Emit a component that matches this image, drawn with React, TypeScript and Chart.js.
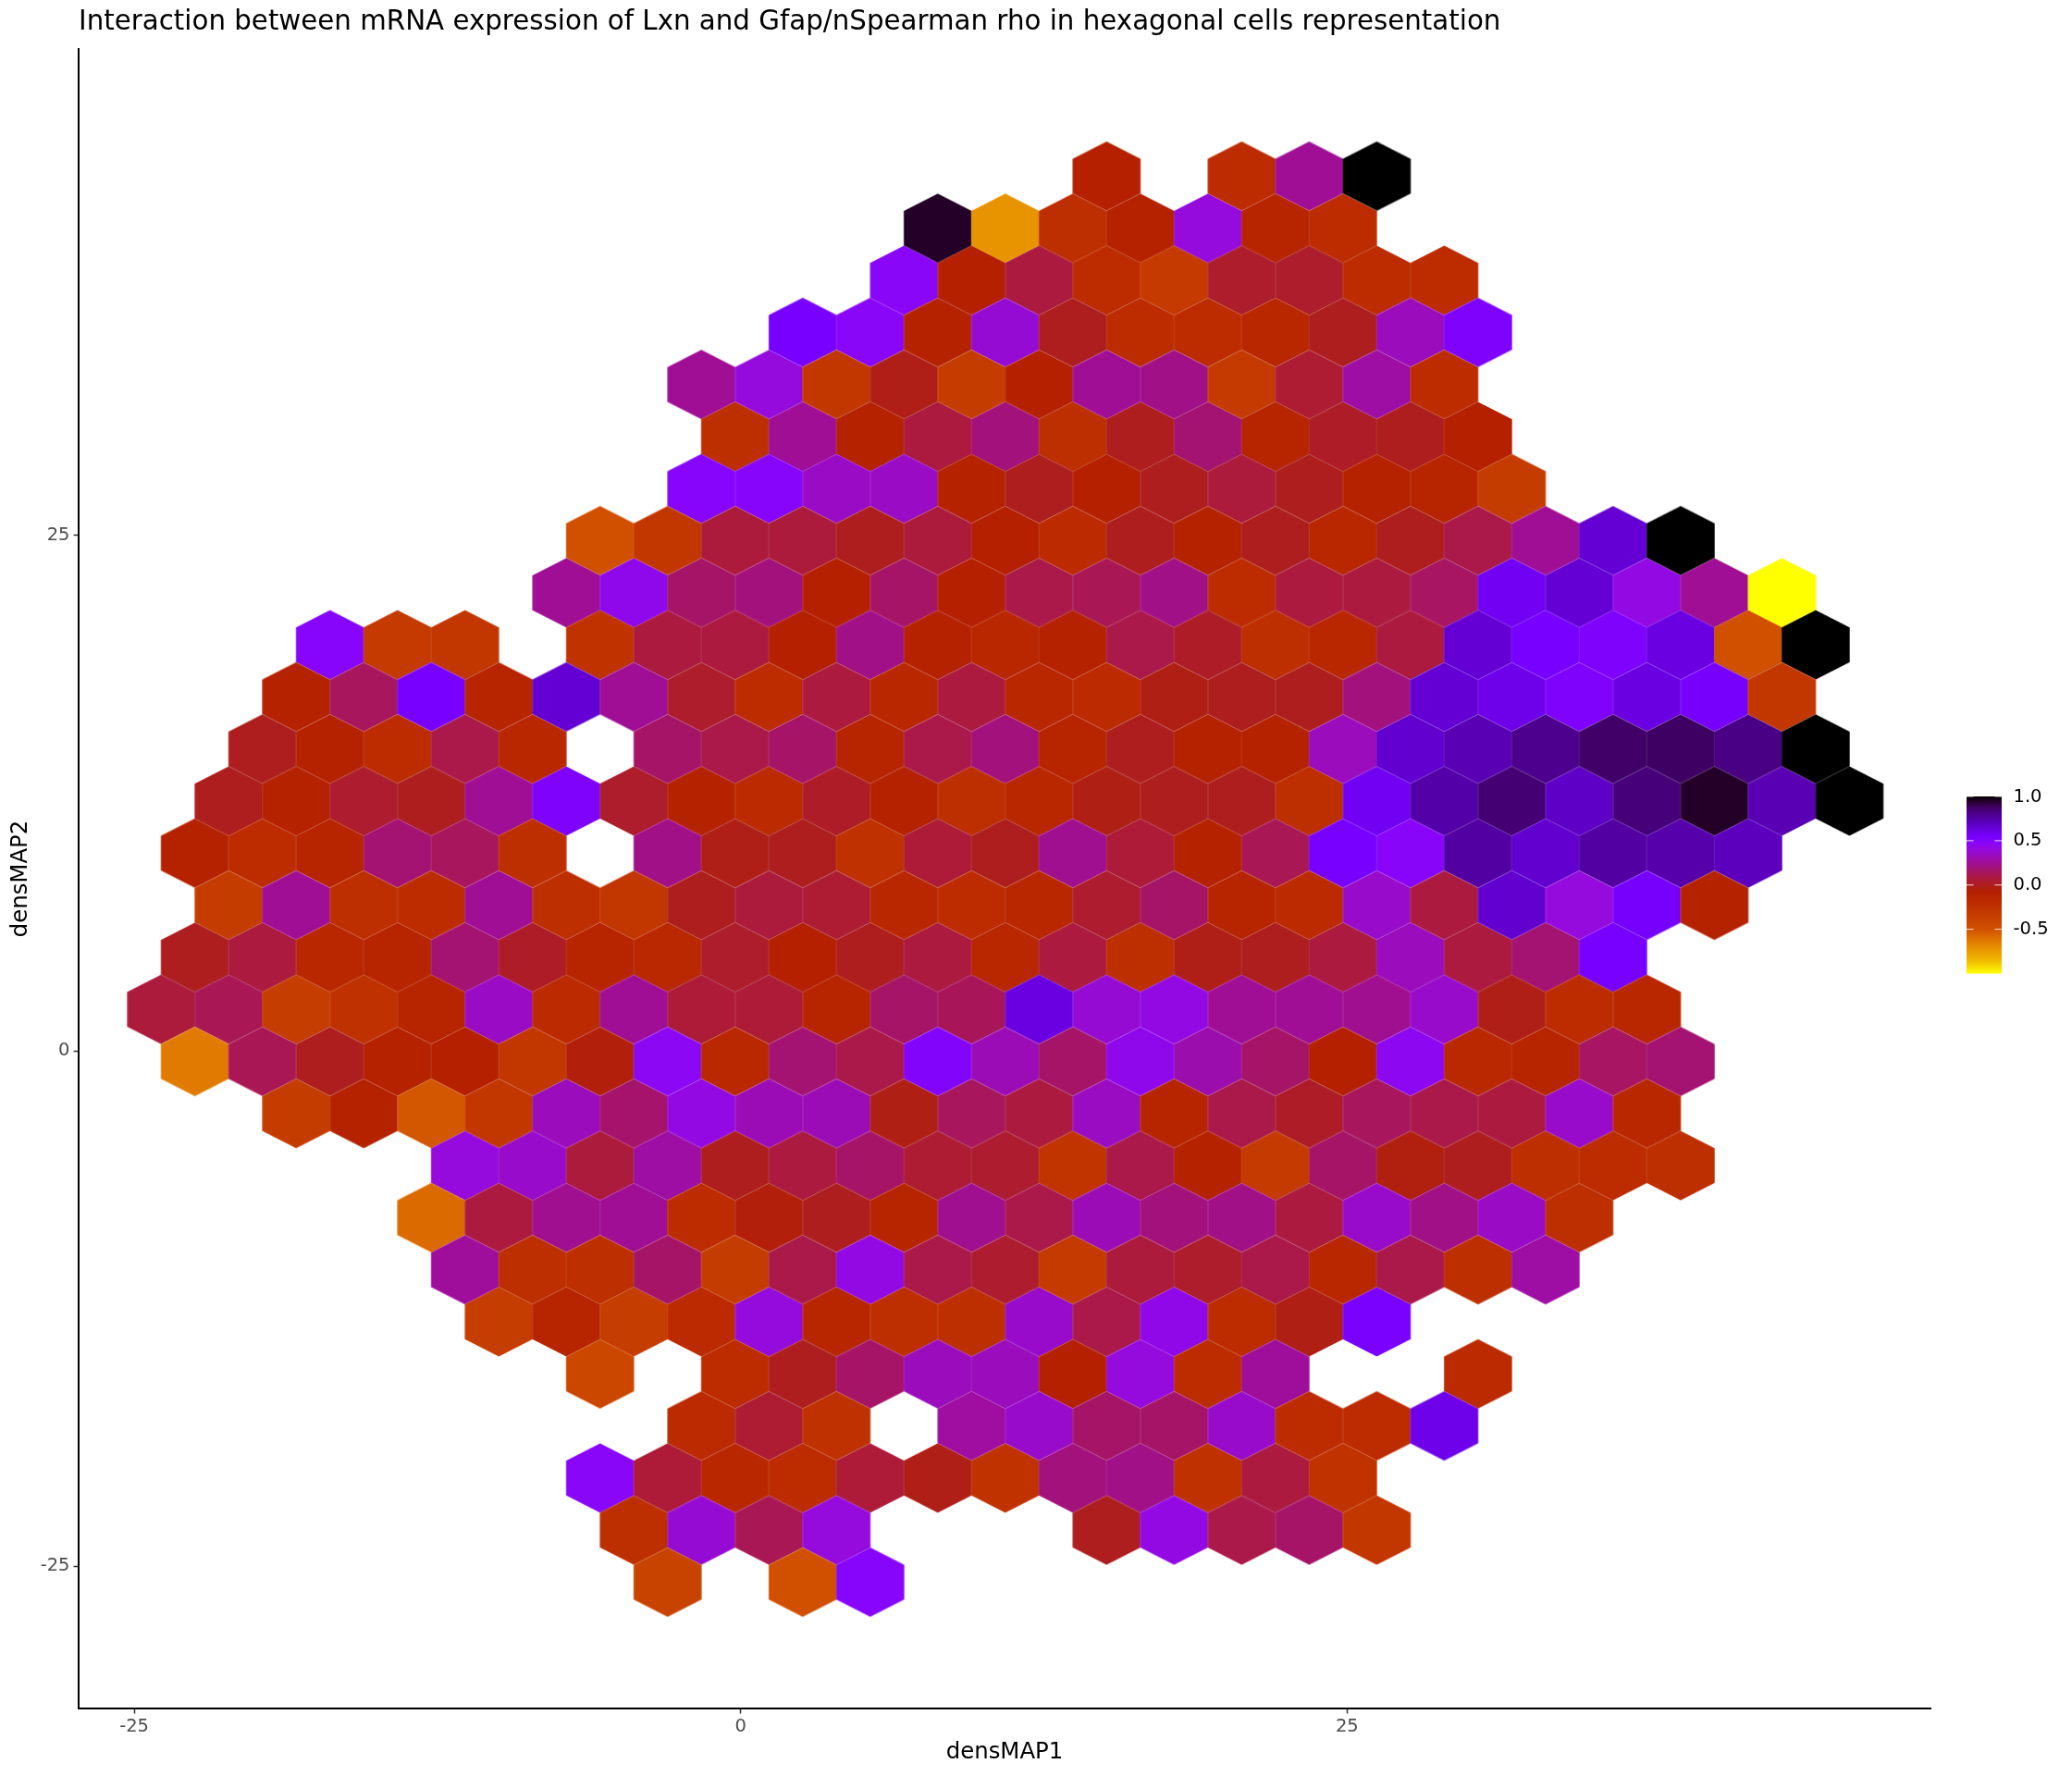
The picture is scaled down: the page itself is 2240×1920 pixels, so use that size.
import React, { useEffect, useRef } from "react";
import { Chart, registerables } from "chart.js";

Chart.register(...registerables);

const titleText = "Interaction between mRNA expression of Lxn and Gfap/nSpearman rho in hexagonal cells representation";
const xAxisLabel = "densMAP1";
const yAxisLabel = "densMAP2";
const xTickValues = [-25, 0, 25];
const yTickValues = [-25, 0, 25];
const legendTickValues = [1, 0.5, 0, -0.5];

// hexbin grid (axis units)
const binOriginX = -23.89;
const binStepX = 2.784;
const binOriginY = 42.43;
const binStepY = 2.526;

const rowStartColumn = [14, 11, 11, 9, 8, 8, 8, 6, 6, 2, 2, 1, 1, 0, 1, 0, 0, 0, 2, 4, 4, 4, 5, 6, 8, 6, 7, 7];

const rowRho: (number | null)[][] = [
  [-0.08, null, -0.2, 0.25, 1],
  [0.95, -0.72, -0.22, -0.1, 0.4, -0.12, -0.2],
  [0.47, -0.08, 0.08, -0.2, -0.3, 0.03, 0.03, -0.2, -0.2],
  [0.55, 0.47, -0.1, 0.38, 0.0, -0.2, -0.2, -0.15, 0.0, 0.33, 0.52],
  [0.25, 0.4, -0.28, -0.02, -0.32, -0.08, 0.25, 0.22, -0.3, 0.05, 0.28, -0.2],
  [-0.22, 0.25, -0.1, 0.08, 0.2, -0.22, 0.0, 0.18, -0.12, 0.02, 0.0, -0.08],
  [0.49, 0.49, 0.35, 0.35, -0.1, 0.0, -0.08, 0.0, 0.07, 0.0, -0.1, -0.12, -0.32],
  [-0.5, -0.28, 0.07, 0.07, 0.0, 0.07, -0.08, -0.18, 0.0, -0.1, 0.0, -0.15, 0.0, 0.1, 0.25, 0.65, 1],
  [0.25, 0.44, 0.16, 0.2, -0.08, 0.16, -0.08, 0.1, 0.12, 0.22, -0.2, 0.08, 0.08, 0.15, 0.58, 0.65, 0.42, 0.25, -1],
  [0.49, -0.3, -0.28, null, -0.25, 0.08, 0.08, -0.08, 0.22, -0.1, -0.15, -0.1, 0.1, 0.02, -0.22, -0.15, 0.08, 0.65, 0.55, 0.52, 0.62, -0.5, 1],
  [-0.1, 0.14, 0.55, -0.12, 0.65, 0.25, 0.03, -0.2, 0.08, -0.15, 0.08, -0.15, -0.18, -0.03, 0.0, 0.0, 0.2, 0.65, 0.6, 0.52, 0.62, 0.56, -0.28],
  [0.0, -0.1, -0.2, 0.1, -0.15, null, 0.16, 0.1, 0.16, -0.12, 0.1, 0.2, -0.12, 0.0, -0.1, -0.1, 0.33, 0.66, 0.72, 0.8, 0.87, 0.88, 0.82, 1],
  [0.0, -0.1, 0.04, 0.0, 0.25, 0.52, 0.03, -0.1, -0.18, 0.02, -0.1, -0.22, -0.15, -0.03, 0.0, 0.0, -0.22, 0.58, 0.75, 0.85, 0.68, 0.84, 0.95, 0.72, 1],
  [-0.1, -0.2, -0.12, 0.18, 0.14, -0.22, null, 0.22, -0.02, 0.0, -0.24, 0.06, 0.0, 0.24, 0.06, -0.1, 0.12, 0.55, 0.48, 0.76, 0.66, 0.76, 0.74, 0.7],
  [-0.32, 0.25, -0.22, -0.2, 0.25, -0.22, -0.27, 0.0, 0.07, 0.05, -0.15, -0.2, -0.15, 0.04, 0.16, -0.12, -0.18, 0.36, 0.08, 0.66, 0.4, 0.56, -0.1],
  [0.0, 0.08, -0.15, -0.12, 0.18, 0.02, -0.12, -0.16, 0.03, -0.08, 0.0, 0.08, -0.15, 0.08, -0.22, -0.02, 0.0, 0.08, 0.33, 0.08, 0.18, 0.55],
  [0.07, 0.12, -0.33, -0.24, -0.12, 0.35, -0.18, 0.25, 0.06, 0.06, -0.12, 0.16, 0.13, 0.62, 0.38, 0.42, 0.25, 0.25, 0.24, 0.36, -0.02, -0.2, -0.15],
  [-0.63, 0.12, 0.0, -0.1, -0.08, -0.27, -0.05, 0.46, -0.16, 0.18, 0.1, 0.5, 0.32, 0.16, 0.44, 0.3, 0.16, -0.08, 0.45, -0.16, -0.12, 0.15, 0.18],
  [-0.32, -0.1, -0.52, -0.27, 0.33, 0.17, 0.42, 0.32, 0.32, -0.03, 0.14, 0.08, 0.34, -0.12, 0.1, 0.02, 0.14, 0.1, 0.08, 0.36, -0.15],
  [0.4, 0.36, 0.07, 0.28, 0.0, 0.08, 0.16, 0.05, 0.04, -0.26, 0.1, -0.1, -0.3, 0.16, -0.04, 0.0, -0.22, -0.2, -0.22],
  [-0.58, 0.08, 0.24, 0.25, -0.2, -0.05, 0.0, -0.12, 0.24, 0.1, 0.32, 0.2, 0.22, 0.08, 0.36, 0.22, 0.35, -0.22],
  [0.26, -0.22, -0.22, 0.16, -0.32, 0.1, 0.42, 0.1, 0.04, -0.3, 0.07, 0.03, 0.1, -0.15, 0.1, -0.22, 0.28],
  [-0.33, -0.12, -0.33, -0.18, 0.4, -0.14, -0.22, -0.22, 0.36, 0.1, 0.43, -0.2, -0.03, 0.54],
  [-0.42, null, -0.2, 0.0, 0.16, 0.33, 0.33, -0.08, 0.4, -0.2, 0.26, null, null, -0.18],
  [-0.18, 0.05, -0.24, null, 0.27, 0.36, 0.16, 0.16, 0.36, -0.2, -0.2, 0.6],
  [0.47, 0.06, -0.15, -0.2, 0.06, -0.02, -0.25, 0.2, 0.22, -0.24, 0.08, -0.25],
  [-0.22, 0.38, 0.12, 0.4, null, null, null, 0.0, 0.42, 0.1, 0.16, -0.28],
  [-0.38, null, -0.5, 0.49],
];

const colorStopValues = [-1, -0.85, -0.65, -0.5, -0.3, -0.2, -0.08, 0, 0.08, 0.16, 0.25, 0.33, 0.4, 0.47, 0.55, 0.65, 0.75, 0.82, 0.88, 0.95, 1];
const colorStopHex = [
  "#FFFF00", "#F0B800", "#E48000", "#D05000", "#C43A00", "#BC2C00", "#B42000", "#AE1E1E", "#AC1A40", "#A61468",
  "#A00E96", "#9A0CBC", "#950ADC", "#8A06F8", "#7800FF", "#6400D4", "#5400A8", "#4A0084", "#3E0062", "#240028", "#000000",
];

const hexToRgb = (h: string) => [1, 3, 5].map((i) => parseInt(h.slice(i, i + 2), 16));

function rhoColor(v: number): string {
  let i = 0;
  while (i < colorStopValues.length - 2 && v > colorStopValues[i + 1]) i++;
  const t = Math.max(0, Math.min(1, (v - colorStopValues[i]) / (colorStopValues[i + 1] - colorStopValues[i])));
  const a = hexToRgb(colorStopHex[i]);
  const b = hexToRgb(colorStopHex[i + 1]);
  const c = a.map((x, k) => Math.round(x + (b[k] - x) * t));
  return `rgb(${c[0]},${c[1]},${c[2]})`;
}

const hexPoints: { x: number; y: number; rho: number }[] = [];
rowRho.forEach((row, r) => {
  row.forEach((rho, k) => {
    if (rho === null) return;
    const col = rowStartColumn[r] + k;
    hexPoints.push({
      x: binOriginX + col * binStepX + (r % 2 === 1 ? binStepX / 2 : 0),
      y: binOriginY - r * binStepY,
      rho,
    });
  });
});

const spriteCache = new Map<string, HTMLCanvasElement>();
function hexSprite(color: string, w0: number, h: number): HTMLCanvasElement {
  const w = w0 + 0.5;
  const key = `${color}|${w.toFixed(2)}|${h.toFixed(2)}`;
  const hit = spriteCache.get(key);
  if (hit) return hit;
  const c = document.createElement("canvas");
  c.width = Math.ceil(w) + 4;
  c.height = Math.ceil(h) + 4;
  const g = c.getContext("2d")!;
  const cx = c.width / 2;
  const cy = c.height / 2;
  g.fillStyle = color;
  g.beginPath();
  g.moveTo(cx, cy - h / 2);
  g.lineTo(cx + w / 2, cy - h / 4);
  g.lineTo(cx + w / 2, cy + h / 4);
  g.lineTo(cx, cy + h / 2);
  g.lineTo(cx - w / 2, cy + h / 4);
  g.lineTo(cx - w / 2, cy - h / 4);
  g.closePath();
  g.fill();
  spriteCache.set(key, c);
  return c;
}

const colorBarPlugin = {
  id: "colorBar",
  afterDraw(chart: any) {
    const ctx = chart.ctx;
    const left = 2126;
    const right = 2164;
    const top = 861;
    const bottom = 1052.5;
    const yOf = (v: number) => bottom - ((v + 1) / 2) * (bottom - top);
    ctx.save();
    const grad = ctx.createLinearGradient(0, bottom, 0, top);
    colorStopValues.forEach((v, i) => grad.addColorStop((v + 1) / 2, colorStopHex[i]));
    ctx.fillStyle = grad;
    ctx.fillRect(left, top, right - left, bottom - top);
    ctx.strokeStyle = "rgba(255,255,255,0.85)";
    ctx.lineWidth = 1;
    ctx.font = '19.5px "DejaVu Sans"';
    ctx.fillStyle = "#000000";
    ctx.textAlign = "left";
    ctx.textBaseline = "middle";
    legendTickValues.forEach((v) => {
      const y = yOf(v);
      ctx.beginPath();
      ctx.moveTo(left, y);
      ctx.lineTo(left + 7.6, y);
      ctx.moveTo(right - 7.6, y);
      ctx.lineTo(right, y);
      ctx.stroke();
      ctx.fillText(v.toFixed(1), 2176.5, y + 0.5);
    });
    ctx.restore();
  },
};

const tickSetter = (vals: number[]) => (s: any) => {
  s.ticks = vals.map((value) => ({ value }));
};

export default function App() {
  const ref = useRef<HTMLCanvasElement>(null);
  useEffect(() => {
    document.body.style.margin = "0";
    document.body.style.background = "#ffffff";
    const chart = new Chart(ref.current!, {
      type: "scatter",
      data: {
        datasets: [
          {
            data: hexPoints,
            pointRadius: 1,
            pointHoverRadius: 1,
            pointBorderWidth: 0,
            pointStyle: (ctx: any) => {
              const xs = ctx.chart.scales.x;
              const ys = ctx.chart.scales.y;
              const w = Math.abs(xs.getPixelForValue(binStepX) - xs.getPixelForValue(0));
              const h = (Math.abs(ys.getPixelForValue(binStepY) - ys.getPixelForValue(0)) * 4) / 3;
              return hexSprite(rhoColor(ctx.raw.rho), w, h);
            },
          } as any,
        ],
      },
      options: {
        responsive: false,
        animation: false,
        events: [],
        layout: { padding: { left: 0, right: 153, top: 0, bottom: 0 } },
        plugins: {
          legend: { display: false },
          tooltip: { enabled: false },
          title: {
            display: true,
            text: titleText,
            align: "start",
            fullSize: false,
            color: "#000000",
            font: { family: "DejaVu Sans", size: 29.3, weight: "normal", lineHeight: 1.2 },
            padding: { top: 6.6, bottom: 11.2 },
          },
        },
        scales: {
          x: {
            type: "linear",
            min: -27.29,
            max: 49.05,
            afterBuildTicks: tickSetter(xTickValues),
            afterFit: (s: any) => {
              s.height = 73;
            },
            border: { display: true, color: "#000000", width: 2 },
            grid: { drawOnChartArea: false, drawTicks: true, tickLength: 5.5, tickColor: "#333333", tickWidth: 1.5 },
            ticks: {
              color: "#4d4d4d",
              font: { family: "DejaVu Sans", size: 19.5 },
              padding: 3,
              maxRotation: 0,
              autoSkip: false,
            },
            title: {
              display: true,
              text: xAxisLabel,
              color: "#000000",
              font: { family: "DejaVu Sans", size: 24.4, weight: "normal" },
              padding: { top: 0, bottom: 10.3 },
            },
          },
          y: {
            type: "linear",
            min: -31.9,
            max: 48.6,
            afterBuildTicks: tickSetter(yTickValues),
            afterFit: (s: any) => {
              s.width = 85;
            },
            border: { display: true, color: "#000000", width: 2 },
            grid: { drawOnChartArea: false, drawTicks: true, tickLength: 5.5, tickColor: "#333333", tickWidth: 1.5 },
            ticks: {
              color: "#4d4d4d",
              font: { family: "DejaVu Sans", size: 19.5 },
              padding: 4,
              autoSkip: false,
            },
            title: {
              display: true,
              text: yAxisLabel,
              color: "#000000",
              font: { family: "DejaVu Sans", size: 24.4, weight: "normal" },
              padding: { top: 8, bottom: 0 },
            },
          },
        },
      },
      plugins: [colorBarPlugin],
    } as any);
    return () => chart.destroy();
  }, []);
  return <canvas ref={ref} width={2240} height={1920} style={{ display: "block" }} />;
}
